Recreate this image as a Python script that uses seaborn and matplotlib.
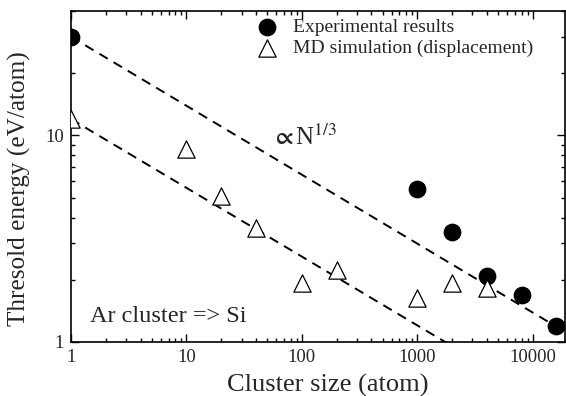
import matplotlib
matplotlib.use("Agg")
import matplotlib.pyplot as plt
import seaborn as sns
import pandas as pd

# ---- data ----
exp_size = [1, 1000, 2000, 4000, 8000, 16000]
exp_energy = [30, 5.5, 3.4, 2.08, 1.68, 1.19]

md_size = [1, 10, 20, 40, 100, 200, 1000, 2000, 4000]
md_energy = [12, 8.6, 5.1, 3.55, 1.93, 2.23, 1.63, 1.92, 1.83]

upper_size = [1, 19000]
upper_energy = [30, 1.12]
lower_size = [1, 2000]
lower_energy = [12, 0.955]

x_ticks = [1, 10, 100, 1000, 10000]
x_ticklabels = ["1", "10", "100", "1000", "10000"]
y_ticks = [1, 10]
y_ticklabels = ["1", "10"]

sns.set_theme(style="ticks")
plt.rcParams["font.family"] = ["Liberation Serif", "DejaVu Serif"]
plt.rcParams["mathtext.fontset"] = "stix"

fig = plt.figure(figsize=(5.66, 3.96), dpi=100)
ax = fig.add_axes([71 / 566, 1 - 342 / 396, (565 - 71) / 566, (342 - 11) / 396])

df_up = pd.DataFrame({"n": upper_size, "e": upper_energy})
df_lo = pd.DataFrame({"n": lower_size, "e": lower_energy})
for d in (df_up, df_lo):
    sns.lineplot(data=d, x="n", y="e", ax=ax, color="black", lw=1.4,
                 dashes=False, zorder=1)
for l in ax.lines:
    l.set_dashes((5, 3.5))

df_exp = pd.DataFrame({"n": exp_size, "e": exp_energy})
df_md = pd.DataFrame({"n": md_size, "e": md_energy})
sns.scatterplot(data=df_exp, x="n", y="e", ax=ax, marker="o", s=140,
                color="black", edgecolor="black", zorder=3,
                label="Experimental results")
sns.scatterplot(data=df_md, x="n", y="e", ax=ax, marker="^", s=155,
                facecolor="white", edgecolor="black", linewidth=0.9, zorder=3,
                label="MD simulation (displacement)")

ax.set_xscale("log")
ax.set_yscale("log")
ax.set_xlim(1, 19000)
ax.set_ylim(1, 40)
ax.set_xticks(x_ticks)
ax.set_xticklabels(x_ticklabels)
ax.set_yticks(y_ticks)
ax.set_yticklabels(y_ticklabels)

ax.tick_params(which="both", direction="in", top=True, right=True,
               labelsize=13.5, width=1.0, color="black")
ax.tick_params(which="major", length=6, pad=5)
ax.tick_params(which="minor", length=3)
for sp in ax.spines.values():
    sp.set_linewidth(1.2)
    sp.set_color("black")

ax.set_xlabel("Cluster size (atom)", fontsize=19)
ax.set_ylabel("Thresold energy (eV/atom)", fontsize=18.2)
ax.xaxis.set_label_coords(0.52, -0.095)
ax.yaxis.set_label_coords(-0.08, 0.462)

ax.text(0.038, 0.078, "Ar cluster => Si", transform=ax.transAxes,
        fontsize=17.5, va="center", ha="left")
ax.text(0.405, 0.618, r"$\boldsymbol{\propto}$N$^{1/3}$", transform=ax.transAxes,
        fontsize=18, va="center", ha="left")

leg = ax.legend(loc="upper left", bbox_to_anchor=(0.377, 0.978),
                frameon=False, fontsize=14, handlelength=1.0,
                handletextpad=0.85, labelspacing=0.2, borderpad=0,
                borderaxespad=0)

fig.savefig("out.png", dpi=100)
